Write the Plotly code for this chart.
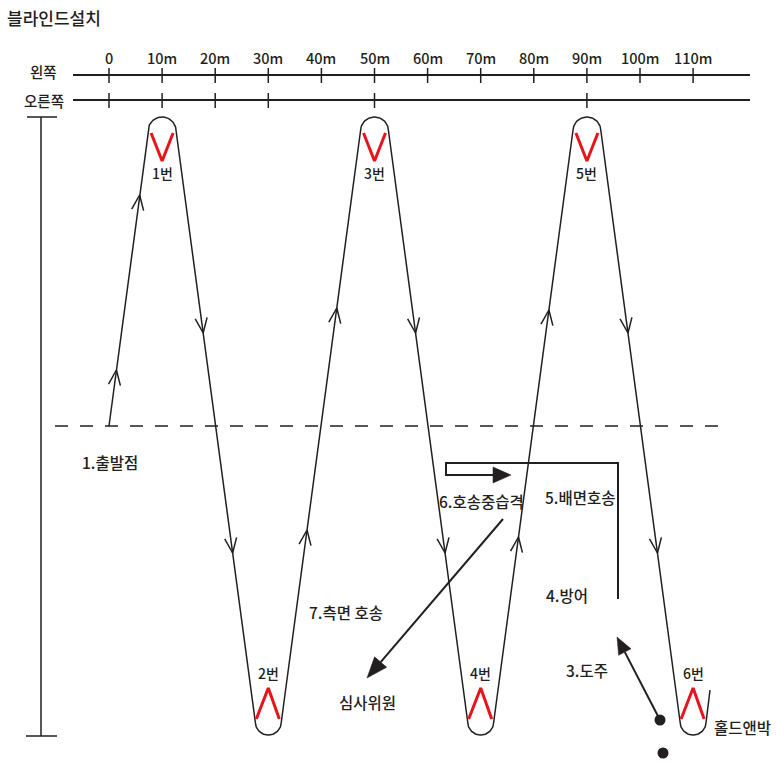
import numpy as np
import plotly.graph_objects as go

# ---------------- data ----------------
TITLE = "블라인드설치"
TICK_M = [0, 10, 20, 30, 40, 50, 60, 70, 80, 90, 100, 110]
TICK_LABELS = ["0", "10m", "20m", "30m", "40m", "50m", "60m", "70m", "80m", "90m", "100m", "110m"]
RIGHT_TICK_M = [0, 10, 20, 30, 50, 90]
SIDE_LABELS = ["왼쪽", "오른쪽"]
BLIND_M = [10, 30, 50, 70, 90, 110]
BLIND_LABELS = ["1번", "2번", "3번", "4번", "5번", "6번"]
BLIND_SIDE = ["top", "bottom", "top", "bottom", "top", "bottom"]
START_M = 0
STEP_LABELS = ["1.출발점", "3.도주", "4.방어", "5.배면호송", "6.호송중습격", "7.측면 호송"]
OTHER_LABELS = ["심사위원", "홀드앤박"]

# ---------------- geometry helpers ----------------
INK = "#231f20"
RED = "#e8141b"
FONT = "Noto Sans CJK KR"
X0 = 109.0          # pixel of 0 m
PXM = 5.31          # pixels per metre


def X(px):
    return (px - X0) / PXM


def PX(m):
    return X0 + m * PXM


TOP_Y, TOP_R = 131.0, 14.0
BOT_Y, BOT_R = 722.0, 13.0
START_Y = 426.0

fig = go.Figure()


def add_line(xs_px, ys, width=1.5, color=INK, dash=None):
    xs = [None if v is None else X(v) for v in xs_px]
    fig.add_trace(go.Scatter(x=xs, y=ys, mode="lines", hoverinfo="skip",
                             line=dict(color=color, width=width, dash=dash),
                             showlegend=False))


# ---------------- ruler ----------------
add_line([73, 750], [75, 75], width=2)
add_line([73, 750], [100, 100], width=2)
tx, ty = [], []
for m in TICK_M:
    tx += [PX(m), PX(m), None]
    ty += [68, 83, None]
for m in RIGHT_TICK_M:
    tx += [PX(m), PX(m), None]
    ty += [93, 108, None]
add_line(tx, ty, width=1.5)

# ---------------- left scale bar ----------------
add_line([41, 41, None, 27, 57, None, 26, 57], [117, 736, None, 117, 117, None, 736, 736], width=1.5)

# ---------------- dashed start line ----------------
add_line([55, 722], [START_Y, START_Y], width=1.5, dash="13px,12px")

# ---------------- serpentine route ----------------
path_x = [PX(START_M)]
path_y = [START_Y]
legs = []
prev = (PX(START_M), START_Y)
for m, side in zip(BLIND_M, BLIND_SIDE):
    c = PX(m)
    t = np.linspace(np.pi, 0, 40)
    if side == "top":
        ax_ = c + TOP_R * np.cos(t)
        ay_ = TOP_Y - TOP_R * np.sin(t)
    else:
        ax_ = c + BOT_R * np.cos(t)
        ay_ = BOT_Y + BOT_R * np.sin(t)
    legs.append((prev, (ax_[0], ay_[0])))
    path_x += list(ax_)
    path_y += list(ay_)
    prev = (ax_[-1], ay_[-1])
end_pt = (710.0, 690.0)
path_x.append(end_pt[0])
path_y.append(end_pt[1])
add_line(path_x, path_y, width=1.5)

# open chevron arrows on legs
ARROW_TIPS = [(370, 195), (333, 553), (530, 308), (333, 553), (537, 310), (333, 553)]
cx, cy = [], []
for (p0, p1), tips in zip(legs, ARROW_TIPS):
    d = np.array([p1[0] - p0[0], p1[1] - p0[1]])
    d = d / np.linalg.norm(d)
    n = np.array([-d[1], d[0]])
    for tyy in tips:
        tt = (tyy - p0[1]) / (p1[1] - p0[1])
        tip = np.array([p0[0] + tt * (p1[0] - p0[0]), tyy])
        a = tip - 15 * d + 6 * n
        b = tip - 15 * d - 6 * n
        cx += [a[0], tip[0], b[0], None]
        cy += [a[1], tip[1], b[1], None]
add_line(cx, cy, width=1.5)

# red blind marks
rx, ry = [], []
for m, side in zip(BLIND_M, BLIND_SIDE):
    c = PX(m)
    if side == "top":
        rx += [c - 11, c, c + 11, None]
        ry += [133, 161, 133, None]
    else:
        rx += [c - 12, c, c + 11, None]
        ry += [719, 688, 719, None]
add_line(rx, ry, width=3, color=RED)


# ---------------- filled-head arrows ----------------
def filled_arrow(pts, L, W):
    p_prev = np.array(pts[-2], float)
    tip = np.array(pts[-1], float)
    d = tip - p_prev
    d = d / np.linalg.norm(d)
    n = np.array([-d[1], d[0]])
    base = tip - L * d
    shaft = [list(p) for p in pts[:-1]] + [list(base)]
    add_line([p[0] for p in shaft], [p[1] for p in shaft], width=2)
    tri = [base + W * n, tip, base - W * n, base + W * n]
    fig.add_trace(go.Scatter(x=[X(p[0]) for p in tri], y=[p[1] for p in tri],
                             mode="lines", fill="toself", fillcolor=INK,
                             line=dict(color=INK, width=0.5), hoverinfo="skip",
                             showlegend=False))


filled_arrow([(503, 519), (367, 678)], L=21, W=8)
filled_arrow([(618, 599), (618, 463), (446, 463), (446, 475), (511, 475)], L=18, W=8)
filled_arrow([(660, 720), (617, 637)], L=17, W=7)

# dots
fig.add_trace(go.Scatter(x=[X(660), X(663)], y=[720, 753], mode="markers",
                         marker=dict(color=INK, size=11), hoverinfo="skip", showlegend=False))

# ---------------- text ----------------
ann = []


def text(s, xpx, y, size=15.5, anchor="center"):
    ann.append(dict(x=X(xpx), y=y, xref="x", yref="y", text=s, showarrow=False,
                    xanchor=anchor, yanchor="middle",
                    font=dict(family=FONT, size=size, color=INK, weight=500)))


text(TITLE, 5, 17, size=17, anchor="left")
text(SIDE_LABELS[0], 43, 71, size=14.5)
text(SIDE_LABELS[1], 44, 100, size=14.5)
for m, lab in zip(TICK_M, TICK_LABELS):
    text(lab, PX(m), 57, size=14.5)
for m, lab, side in zip(BLIND_M, BLIND_LABELS, BLIND_SIDE):
    text(lab, PX(m), 173 if side == "top" else 673, size=14)

step_pos = [(110, 462), (587, 670), (567, 595), (580, 497), (481, 501), (346, 612)]
for lab, (xp, yp) in zip(STEP_LABELS, step_pos):
    text(lab, xp, yp)
text(OTHER_LABELS[0], 367, 702)
text(OTHER_LABELS[1], 742, 727)

fig.update_layout(
    width=776, height=762, autosize=False,
    margin=dict(l=0, r=0, t=0, b=0),
    paper_bgcolor="white", plot_bgcolor="white",
    xaxis=dict(range=[X(0), X(776)], visible=False, fixedrange=True),
    yaxis=dict(range=[762, 0], visible=False, fixedrange=True),
    annotations=ann,
    showlegend=False,
)

fig.write_html("out.html", config={"displayModeBar": False},
               post_script="document.body.style.margin='0';document.body.style.padding='0';")
